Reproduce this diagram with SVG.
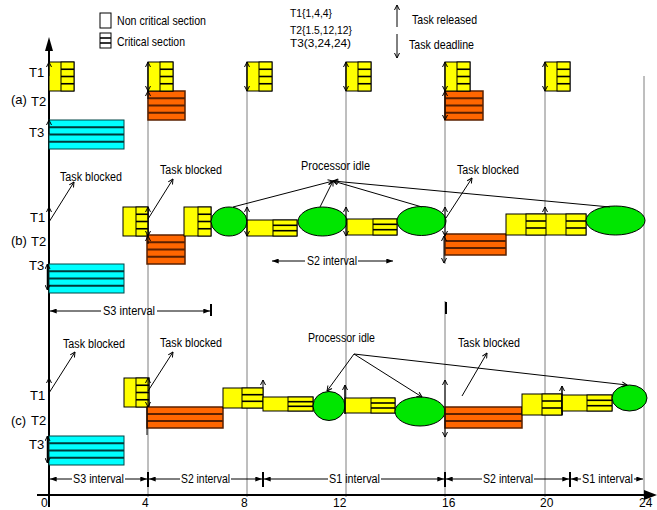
<svg xmlns="http://www.w3.org/2000/svg" width="657" height="510" viewBox="0 0 657 510">
<defs>
<marker id="oa" viewBox="0 0 6 6" refX="5.5" refY="3" markerWidth="6" markerHeight="6" markerUnits="userSpaceOnUse" orient="auto-start-reverse"><path d="M0.5,0.5 L5.5,3 L0.5,5.5" fill="none" stroke="#000" stroke-width="1"/></marker>
<marker id="fa" viewBox="0 0 8 6" refX="8" refY="3" markerWidth="7" markerHeight="5" markerUnits="userSpaceOnUse" orient="auto-start-reverse"><path d="M0,0 L8,3 L0,6 z" fill="#000"/></marker>
</defs>
<style>
text{font-family:"Liberation Sans",Arial,sans-serif;font-size:12px;fill:#000}
.lg{font-size:13px}
.rl{font-size:13px}
.pm{font-size:11px}
.grid{stroke:#7f7f7f;stroke-width:1}
.y{fill:#ffff00;stroke:#000;stroke-width:1}
.o{fill:#ff6600;stroke:#5a2000;stroke-width:1.5}
.c{fill:#00ffff;stroke:#004444;stroke-width:1}
.g{fill:#00e600;stroke:#000;stroke-width:1}
.sl{stroke:#000;stroke-width:1.6}
.ol{stroke:#5a2000;stroke-width:2}
.cl{stroke:#003a3a;stroke-width:2}
.ar{stroke:#000;stroke-width:1;fill:none}
.ra{marker-end:url(#oa)}
.da{marker-start:url(#oa);marker-end:url(#oa)}
.iv{stroke:#000;stroke-width:1;marker-end:url(#fa)}
.bar{stroke:#000;stroke-width:2}
</style>
<rect width="657" height="510" fill="#fff"/>

<g id="grid">
<line class="grid" x1="148" y1="62" x2="148" y2="497"/>
<line class="grid" x1="247" y1="62" x2="247" y2="497"/>
<line class="grid" x1="346" y1="62" x2="346" y2="497"/>
<line class="grid" x1="445" y1="62" x2="445" y2="264"/>
<line class="grid" x1="445" y1="301" x2="445" y2="497"/>
<line class="grid" x1="545" y1="62" x2="545" y2="497"/>
<line class="grid" x1="644" y1="76" x2="644" y2="497"/>
</g>

<g id="axes">
<line x1="49" y1="507" x2="49" y2="50" stroke="#000" stroke-width="2"/>
<polygon points="49,37 45,51 53,51" fill="#000"/>
<line x1="37" y1="495" x2="645" y2="495" stroke="#000" stroke-width="2"/>
<polygon points="657,495 644,490 644,500" fill="#000"/>
<text x="41" y="507">0</text>
<text x="142" y="507">4</text>
<text x="241" y="507">8</text>
<text x="333" y="507">12</text>
<text x="442" y="507">16</text>
<text x="540" y="507">20</text>
<text x="639" y="507">24</text>
</g>

<g id="legend">
<rect x="100" y="13" width="11" height="15" fill="#fff" stroke="#000"/>
<text class="lg" x="117" y="25" textLength="89" lengthAdjust="spacingAndGlyphs">Non critical section</text>
<rect x="100" y="33" width="11" height="15" fill="#fff" stroke="#000"/>
<line class="sl" x1="100" y1="38" x2="111" y2="38"/>
<line class="sl" x1="100" y1="43" x2="111" y2="43"/>
<text class="lg" x="117" y="46" textLength="68" lengthAdjust="spacingAndGlyphs">Critical section</text>
</g>

<g id="params">
<text class="pm" x="290" y="17" textLength="42" lengthAdjust="spacingAndGlyphs">T1{1,4,4}</text>
<text class="pm" x="290" y="34" textLength="62" lengthAdjust="spacingAndGlyphs">T2{1.5,12,12}</text>
<text class="pm" x="290" y="47" textLength="61" lengthAdjust="spacingAndGlyphs">T3(3,24,24)</text>
</g>

<g id="arrow-legend">
<line class="ar ra" x1="397" y1="27" x2="397" y2="5"/>
<text class="lg" x="412" y="24" textLength="65" lengthAdjust="spacingAndGlyphs">Task released</text>
<line class="ar ra" x1="397" y1="34" x2="397" y2="58"/>
<text class="lg" x="409" y="49" textLength="65" lengthAdjust="spacingAndGlyphs">Task deadline</text>
</g>

<!-- Section (a) -->
<g id="labels-a">
<text class="rl" x="29" y="77">T1</text>
<text class="rl" x="11" y="104">(a)</text>
<text class="rl" x="31" y="106">T2</text>
<text class="rl" x="29" y="137">T3</text>
</g>
<g id="a-t3"><rect class="c" x="49" y="120" width="75" height="29"/>
<line class="cl" x1="49" y1="127.25" x2="124" y2="127.25"/><line class="cl" x1="49" y1="134.5" x2="124" y2="134.5"/><line class="cl" x1="49" y1="141.75" x2="124" y2="141.75"/></g>
<g id="a-t2-1"><rect class="o" x="148" y="91" width="37" height="29"/>
<line class="ol" x1="148" y1="98.25" x2="185" y2="98.25"/><line class="ol" x1="148" y1="105.5" x2="185" y2="105.5"/><line class="ol" x1="148" y1="112.75" x2="185" y2="112.75"/></g>
<g id="a-t2-2"><rect class="o" x="445" y="91" width="38" height="29"/>
<line class="ol" x1="445" y1="98.25" x2="483" y2="98.25"/><line class="ol" x1="445" y1="105.5" x2="483" y2="105.5"/><line class="ol" x1="445" y1="112.75" x2="483" y2="112.75"/></g>
<g id="a-t1-0"><rect class="y" x="49" y="62" width="25" height="29"/><rect class="y" x="61" y="62" width="13" height="29"/>
<line class="sl" x1="61" y1="69.25" x2="74" y2="69.25"/><line class="sl" x1="61" y1="76.5" x2="74" y2="76.5"/><line class="sl" x1="61" y1="83.75" x2="74" y2="83.75"/></g>
<g id="a-t1-1"><rect class="y" x="148" y="62" width="25" height="29"/><rect class="y" x="160" y="62" width="13" height="29"/>
<line class="sl" x1="160" y1="69.25" x2="173" y2="69.25"/><line class="sl" x1="160" y1="76.5" x2="173" y2="76.5"/><line class="sl" x1="160" y1="83.75" x2="173" y2="83.75"/></g>
<g id="a-t1-2"><rect class="y" x="247" y="62" width="25" height="29"/><rect class="y" x="259" y="62" width="13" height="29"/>
<line class="sl" x1="259" y1="69.25" x2="272" y2="69.25"/><line class="sl" x1="259" y1="76.5" x2="272" y2="76.5"/><line class="sl" x1="259" y1="83.75" x2="272" y2="83.75"/></g>
<g id="a-t1-3"><rect class="y" x="346" y="62" width="25" height="29"/><rect class="y" x="358" y="62" width="13" height="29"/>
<line class="sl" x1="358" y1="69.25" x2="371" y2="69.25"/><line class="sl" x1="358" y1="76.5" x2="371" y2="76.5"/><line class="sl" x1="358" y1="83.75" x2="371" y2="83.75"/></g>
<g id="a-t1-4"><rect class="y" x="445" y="62" width="25" height="29"/><rect class="y" x="457" y="62" width="13" height="29"/>
<line class="sl" x1="457" y1="69.25" x2="470" y2="69.25"/><line class="sl" x1="457" y1="76.5" x2="470" y2="76.5"/><line class="sl" x1="457" y1="83.75" x2="470" y2="83.75"/></g>
<g id="a-t1-5"><rect class="y" x="545" y="62" width="25" height="29"/><rect class="y" x="557" y="62" width="13" height="29"/>
<line class="sl" x1="557" y1="69.25" x2="570" y2="69.25"/><line class="sl" x1="557" y1="76.5" x2="570" y2="76.5"/><line class="sl" x1="557" y1="83.75" x2="570" y2="83.75"/></g>

<!-- Section (b) -->
<g id="labels-b">
<text class="rl" x="30" y="222">T1</text>
<text class="rl" x="11" y="245">(b)</text>
<text class="rl" x="31" y="246">T2</text>
<text class="rl" x="29" y="270">T3</text>
</g>
<g id="b-t3"><rect class="c" x="49" y="264" width="75" height="29"/>
<line class="cl" x1="49" y1="271.25" x2="124" y2="271.25"/><line class="cl" x1="49" y1="278.5" x2="124" y2="278.5"/><line class="cl" x1="49" y1="285.75" x2="124" y2="285.75"/></g>
<g id="b-t1-a"><rect class="y" x="123" y="207" width="25" height="29"/><rect class="y" x="136" y="207" width="12" height="29"/>
<line class="sl" x1="136" y1="214.25" x2="148" y2="214.25"/><line class="sl" x1="136" y1="221.5" x2="148" y2="221.5"/><line class="sl" x1="136" y1="228.75" x2="148" y2="228.75"/></g>
<g id="b-t2-a"><rect class="o" x="147" y="235" width="38" height="29"/>
<line class="ol" x1="147" y1="242.25" x2="185" y2="242.25"/><line class="ol" x1="147" y1="249.5" x2="185" y2="249.5"/><line class="ol" x1="147" y1="256.75" x2="185" y2="256.75"/></g>
<g id="b-t1-b"><rect class="y" x="184" y="207" width="27" height="29"/><rect class="y" x="198" y="207" width="13" height="29"/>
<line class="sl" x1="198" y1="214.25" x2="211" y2="214.25"/><line class="sl" x1="198" y1="221.5" x2="211" y2="221.5"/><line class="sl" x1="198" y1="228.75" x2="211" y2="228.75"/></g>
<g id="b-idle-1"><ellipse class="g" cx="229" cy="221.5" rx="18" ry="14.5"/></g>
<g id="b-t1-c"><rect class="y" x="247" y="220" width="50" height="16"/><rect class="y" x="273" y="220" width="24" height="16"/>
<line class="sl" x1="273" y1="225.3" x2="297" y2="225.3"/><line class="sl" x1="273" y1="230.7" x2="297" y2="230.7"/></g>
<g id="b-idle-2"><ellipse class="g" cx="322.5" cy="221.5" rx="24.5" ry="14.5"/></g>
<g id="b-t1-d"><rect class="y" x="347" y="219" width="50" height="16"/><rect class="y" x="373" y="219" width="24" height="16"/>
<line class="sl" x1="373" y1="224.3" x2="397" y2="224.3"/><line class="sl" x1="373" y1="229.7" x2="397" y2="229.7"/></g>
<g id="b-idle-3"><ellipse class="g" cx="421.5" cy="221" rx="24.5" ry="14.5"/></g>
<g id="b-t2-b"><rect class="o" x="445" y="234" width="61" height="21"/>
<line class="ol" x1="445" y1="241" x2="506" y2="241"/><line class="ol" x1="445" y1="248" x2="506" y2="248"/></g>
<g id="b-t1-e"><rect class="y" x="506" y="214" width="80" height="21"/><rect class="y" x="526" y="214" width="20" height="21"/><rect class="y" x="566" y="214" width="20" height="21"/>
<line class="sl" x1="526" y1="221" x2="546" y2="221"/><line class="sl" x1="526" y1="228" x2="546" y2="228"/>
<line class="sl" x1="566" y1="221" x2="586" y2="221"/><line class="sl" x1="566" y1="228" x2="586" y2="228"/></g>
<g id="b-idle-4"><ellipse class="g" cx="615.5" cy="220.5" rx="29.5" ry="14.5"/></g>

<!-- Section (c) -->
<g id="labels-c">
<text class="rl" x="30" y="400">T1</text>
<text class="rl" x="11" y="425">(c)</text>
<text class="rl" x="31" y="425">T2</text>
<text class="rl" x="29" y="449">T3</text>
</g>
<g id="c-t3"><rect class="c" x="49" y="436" width="75" height="29"/>
<line class="cl" x1="49" y1="443.25" x2="124" y2="443.25"/><line class="cl" x1="49" y1="450.5" x2="124" y2="450.5"/><line class="cl" x1="49" y1="457.75" x2="124" y2="457.75"/></g>
<g id="c-t1-a"><rect class="y" x="124" y="378" width="25" height="29"/><rect class="y" x="136" y="378" width="13" height="29"/>
<line class="sl" x1="136" y1="385.25" x2="149" y2="385.25"/><line class="sl" x1="136" y1="392.5" x2="149" y2="392.5"/><line class="sl" x1="136" y1="399.75" x2="149" y2="399.75"/></g>
<g id="c-t2-a"><rect class="o" x="147" y="407" width="76" height="21"/>
<line class="ol" x1="147" y1="414" x2="223" y2="414"/><line class="ol" x1="147" y1="421" x2="223" y2="421"/></g>
<g id="c-t1-b"><rect class="y" x="223" y="388" width="40" height="20"/><rect class="y" x="242" y="388" width="21" height="20"/>
<line class="sl" x1="242" y1="394.7" x2="263" y2="394.7"/><line class="sl" x1="242" y1="401.3" x2="263" y2="401.3"/></g>
<g id="c-t1-c"><rect class="y" x="263" y="397" width="50" height="14"/><rect class="y" x="288" y="397" width="25" height="14"/>
<line class="sl" x1="288" y1="401.7" x2="313" y2="401.7"/><line class="sl" x1="288" y1="406.3" x2="313" y2="406.3"/></g>
<g id="c-idle-1"><ellipse class="g" cx="329" cy="406" rx="16" ry="14.5"/></g>
<g id="c-t1-d"><rect class="y" x="345" y="398" width="50" height="15"/><rect class="y" x="371" y="398" width="24" height="15"/>
<line class="sl" x1="371" y1="403" x2="395" y2="403"/><line class="sl" x1="371" y1="408" x2="395" y2="408"/></g>
<g id="c-idle-2"><ellipse class="g" cx="420" cy="411.5" rx="25" ry="14.5"/></g>
<g id="c-t2-b"><rect class="o" x="445" y="407" width="77" height="21"/>
<line class="ol" x1="445" y1="414" x2="522" y2="414"/><line class="ol" x1="445" y1="421" x2="522" y2="421"/></g>
<g id="c-t1-e"><rect class="y" x="522" y="394" width="40" height="21"/><rect class="y" x="542" y="394" width="20" height="21"/>
<line class="sl" x1="542" y1="401" x2="562" y2="401"/><line class="sl" x1="542" y1="408" x2="562" y2="408"/></g>
<g id="c-t1-f"><rect class="y" x="562" y="395" width="50" height="16"/><rect class="y" x="587" y="395" width="25" height="16"/>
<line class="sl" x1="587" y1="400.3" x2="612" y2="400.3"/><line class="sl" x1="587" y1="405.7" x2="612" y2="405.7"/></g>
<g id="c-idle-3"><ellipse class="g" cx="629.5" cy="398" rx="17.5" ry="13"/></g>

<g id="connectors">
<line class="ar ra" x1="49" y1="76" x2="49" y2="62"/>
<line class="ar ra" x1="49" y1="134" x2="49" y2="120"/>
<line class="ar da" x1="148" y1="62" x2="148" y2="91"/>
<line class="ar ra" x1="148" y1="99" x2="148" y2="91"/>
<line class="ar da" x1="247" y1="62" x2="247" y2="91"/>
<line class="ar da" x1="346" y1="62" x2="346" y2="91"/>
<line class="ar da" x1="445" y1="62" x2="445" y2="91"/>
<line class="ar da" x1="445" y1="91" x2="445" y2="120"/>
<line class="ar da" x1="545" y1="62" x2="545" y2="91"/>
<line class="ar ra" x1="49" y1="222" x2="49" y2="207"/>
<line class="ar da" x1="47.5" y1="264" x2="47.5" y2="290" style="stroke-width:1.5"/>
<line class="ar da" x1="148" y1="207" x2="148" y2="236"/>
<line class="ar ra" x1="148" y1="244" x2="148" y2="236"/>
<line class="ar da" x1="247" y1="207" x2="247" y2="236"/>
<line class="ar da" x1="346" y1="207" x2="346" y2="236"/>
<line class="ar da" x1="445" y1="207" x2="445" y2="236"/>
<line class="ar da" x1="444" y1="236" x2="444" y2="263"/>
<line class="ar ra" x1="545" y1="214" x2="545" y2="207"/>
<line class="bar" x1="446" y1="302" x2="446" y2="314"/>
<line class="ar ra" x1="49" y1="393" x2="49" y2="378"/>
<line class="ar da" x1="47.5" y1="436" x2="47.5" y2="463" style="stroke-width:1.5"/>
<line class="ar da" x1="148" y1="378" x2="148" y2="407"/>
<line class="ar" x1="147" y1="407" x2="147" y2="435"/>
<line class="ar ra" x1="263" y1="388" x2="263" y2="380"/>
<line class="ar ra" x1="345" y1="414" x2="345" y2="385" style="stroke-width:1.5"/>
<line class="ar da" x1="445" y1="380" x2="445" y2="437"/>
<line class="ar ra" x1="562" y1="415" x2="562" y2="386" style="stroke-width:1.5"/>

<line class="ar ra" x1="49" y1="222" x2="74" y2="182"/>
<line class="ar ra" x1="148" y1="219" x2="173" y2="179"/>
<line class="ar ra" x1="446" y1="218" x2="472" y2="178"/>
<line class="ar ra" x1="49" y1="393" x2="75" y2="352"/>
<line class="ar ra" x1="148" y1="391" x2="173" y2="352"/>
<line class="ar ra" x1="462" y1="396" x2="487" y2="353"/>

<line class="ar ra" x1="233" y1="207" x2="333" y2="181"/>
<line class="ar ra" x1="320" y1="207" x2="333" y2="181"/>
<line class="ar ra" x1="422" y1="207" x2="333" y2="181"/>
<line class="ar ra" x1="610" y1="207" x2="333" y2="181"/>
<line class="ar ra" x1="354" y1="354" x2="327" y2="391"/>
<line class="ar ra" x1="354" y1="354" x2="422" y2="397"/>
<line class="ar ra" x1="354" y1="354" x2="627" y2="385"/>

<line class="bar" x1="49" y1="302" x2="49" y2="314"/>
<line class="iv" x1="101" y1="311" x2="50" y2="311"/>
<line class="iv" x1="157" y1="311" x2="210" y2="311"/>
<line class="bar" x1="211" y1="304" x2="211" y2="316"/>
<line class="iv" x1="305" y1="261" x2="272" y2="261"/>
<line class="iv" x1="358" y1="261" x2="393" y2="261"/>
<line class="iv" x1="72" y1="479" x2="50" y2="479"/>
<line class="iv" x1="125" y1="479" x2="147" y2="479"/>
<line class="bar" x1="148" y1="472" x2="148" y2="487"/>
<line class="iv" x1="180" y1="479" x2="149" y2="479"/>
<line class="iv" x1="231" y1="479" x2="262" y2="479"/>
<line class="bar" x1="263" y1="472" x2="263" y2="487"/>
<line class="iv" x1="328" y1="479" x2="264" y2="479"/>
<line class="iv" x1="381" y1="479" x2="444" y2="479"/>
<line class="bar" x1="445" y1="472" x2="445" y2="487"/>
<line class="iv" x1="482" y1="479" x2="446" y2="479"/>
<line class="iv" x1="534" y1="479" x2="569" y2="479"/>
<line class="bar" x1="570" y1="472" x2="570" y2="487"/>
<line class="iv" x1="581" y1="479" x2="571" y2="479"/>
<line class="iv" x1="634" y1="479" x2="643" y2="479"/>
</g>

<g id="annotations">
<text x="60" y="181" textLength="62" lengthAdjust="spacingAndGlyphs">Task blocked</text>
<text x="160" y="174" textLength="62" lengthAdjust="spacingAndGlyphs">Task blocked</text>
<text x="457" y="174" textLength="62" lengthAdjust="spacingAndGlyphs">Task blocked</text>
<text x="301" y="170" textLength="69" lengthAdjust="spacingAndGlyphs">Processor idle</text>
<text x="63" y="348" textLength="62" lengthAdjust="spacingAndGlyphs">Task blocked</text>
<text x="160" y="347" textLength="62" lengthAdjust="spacingAndGlyphs">Task blocked</text>
<text x="458" y="347" textLength="62" lengthAdjust="spacingAndGlyphs">Task blocked</text>
<text x="308" y="342" textLength="67" lengthAdjust="spacingAndGlyphs">Processor idle</text>
<text x="103" y="315" textLength="52" lengthAdjust="spacingAndGlyphs">S3 interval</text>
<text x="307" y="265" textLength="50" lengthAdjust="spacingAndGlyphs">S2 interval</text>
<text x="73" y="483" textLength="51" lengthAdjust="spacingAndGlyphs">S3 interval</text>
<text x="181" y="483" textLength="49" lengthAdjust="spacingAndGlyphs">S2 interval</text>
<text x="329" y="483" textLength="51" lengthAdjust="spacingAndGlyphs">S1 interval</text>
<text x="483" y="483" textLength="50" lengthAdjust="spacingAndGlyphs">S2 interval</text>
<text x="582" y="483" textLength="51" lengthAdjust="spacingAndGlyphs">S1 interval</text>
</g>
</svg>
